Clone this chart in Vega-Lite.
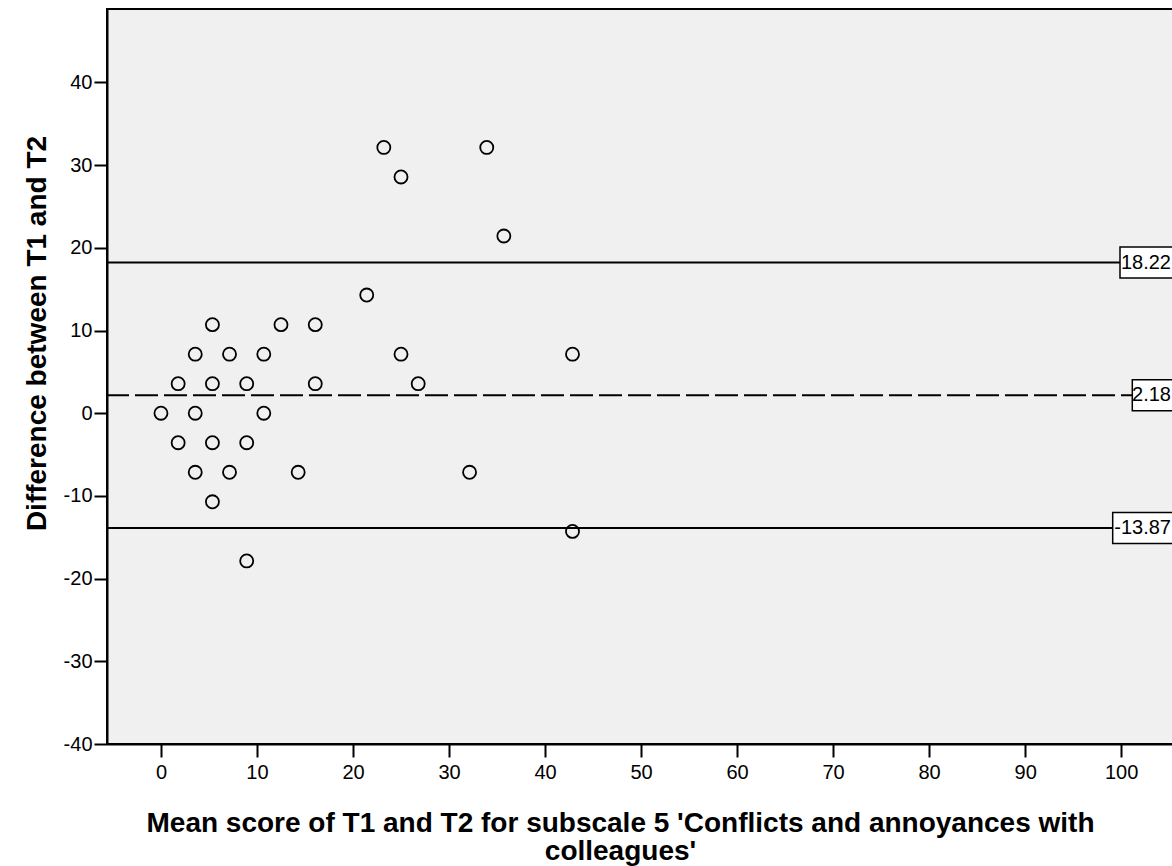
{
  "$schema": "https://vega.github.io/schema/vega-lite/v6.json",
  "width": 1066,
  "height": 735,
  "autosize": "none",
  "padding": {"left": 107, "top": 9, "right": 0, "bottom": 122},
  "background": "white",
  "config": {
    "font": "Liberation Sans",
    "view": {"fill": "#f0f0f0", "stroke": "#000", "strokeWidth": 2},
    "axis": {
      "grid": false,
      "domainColor": "#000",
      "domainWidth": 2,
      "tickColor": "#000",
      "tickWidth": 2,
      "tickSize": 13,
      "labelFont": "Liberation Sans",
      "labelFontSize": 20,
      "labelColor": "#000",
      "titleFont": "Liberation Sans",
      "titleFontSize": 28,
      "titleFontWeight": "bold",
      "titleColor": "#000"
    }
  },
  "layer": [
    {
      "data": {"values": [
        {"value": 18.22, "label": "18.22", "kind": "limit"},
        {"value": 2.18, "label": "2.18", "kind": "mean"},
        {"value": -13.87, "label": "-13.87", "kind": "limit"}
      ]},
      "mark": {"type": "rule", "stroke": "#000", "strokeWidth": 2},
      "encoding": {
        "y": {"field": "value", "type": "quantitative"},
        "strokeDash": {"field": "kind", "type": "nominal", "scale": {"domain": ["limit", "mean"], "range": [[1, 0], [23, 6]]}, "legend": null}
      }
    },
    {
      "data": {"values": [
        {"mean": 0, "diff": 0},
        {"mean": 1.79, "diff": 3.57},
        {"mean": 1.79, "diff": -3.57},
        {"mean": 3.57, "diff": 7.14},
        {"mean": 3.57, "diff": 0},
        {"mean": 3.57, "diff": -7.14},
        {"mean": 5.36, "diff": 10.71},
        {"mean": 5.36, "diff": 3.57},
        {"mean": 5.36, "diff": -3.57},
        {"mean": 5.36, "diff": -10.71},
        {"mean": 7.14, "diff": 7.14},
        {"mean": 7.14, "diff": -7.14},
        {"mean": 8.93, "diff": 3.57},
        {"mean": 8.93, "diff": -3.57},
        {"mean": 8.93, "diff": -17.86},
        {"mean": 10.71, "diff": 7.14},
        {"mean": 10.71, "diff": 0},
        {"mean": 12.5, "diff": 10.71},
        {"mean": 14.29, "diff": -7.14},
        {"mean": 16.07, "diff": 10.71},
        {"mean": 16.07, "diff": 3.57},
        {"mean": 21.43, "diff": 14.29},
        {"mean": 23.21, "diff": 32.14},
        {"mean": 25.0, "diff": 28.57},
        {"mean": 25.0, "diff": 7.14},
        {"mean": 26.79, "diff": 3.57},
        {"mean": 32.14, "diff": -7.14},
        {"mean": 33.93, "diff": 32.14},
        {"mean": 35.71, "diff": 21.43},
        {"mean": 42.86, "diff": 7.14},
        {"mean": 42.86, "diff": -14.29}
      ]},
      "mark": {"type": "point", "filled": false, "stroke": "#000", "strokeWidth": 1.8, "size": 170, "opacity": 1},
      "encoding": {
        "x": {
          "field": "mean", "type": "quantitative",
          "scale": {"domain": [-5.62, 105.4], "nice": false, "zero": false},
          "axis": {
            "values": [0, 10, 20, 30, 40, 50, 60, 70, 80, 90, 100],
            "labelExpr": "datum.value + ''",
            "labelPadding": 5,
            "title": ["Mean score of T1 and T2 for subscale 5 'Conflicts and annoyances with", "colleagues'"],
            "titleX": 513,
            "titleY": 87,
            "titleAlign": "center",
            "titleBaseline": "alphabetic",
            "titleLineHeight": 28
          }
        },
        "y": {
          "field": "diff", "type": "quantitative",
          "scale": {"domain": [-40, 48.88], "nice": false, "zero": false},
          "axis": {
            "values": [-40, -30, -20, -10, 0, 10, 20, 30, 40],
            "labelExpr": "datum.value + ''",
            "labelPadding": 2,
            "title": "Difference between T1 and T2",
            "titleX": -62,
            "titleY": 324,
            "titleAngle": 270,
            "titleAlign": "center",
            "titleBaseline": "alphabetic"
          }
        }
      }
    },
    {
      "data": {"values": [
        {"value": 18.22, "label": "18.22"},
        {"value": 2.18, "label": "2.18"},
        {"value": -13.87, "label": "-13.87"}
      ]},
      "mark": {"type": "point", "filled": true, "fill": "#fff", "stroke": "#000", "strokeWidth": 1.5, "size": 10000, "opacity": 1, "fillOpacity": 1},
      "encoding": {
        "x": {"datum": 105.4},
        "y": {"field": "value", "type": "quantitative"},
        "shape": {
          "field": "label", "type": "nominal",
          "scale": {"domain": ["18.22", "2.18", "-13.87"], "range": ["M-1.06,-0.31H0.1V0.31H-1.06Z", "M-0.814,-0.31H0.1V0.31H-0.814Z", "M-1.206,-0.31H0.1V0.31H-1.206Z"]},
          "legend": null
        }
      }
    },
    {
      "data": {"values": [
        {"value": 18.22, "label": "18.22"},
        {"value": 2.18, "label": "2.18"},
        {"value": -13.87, "label": "-13.87"}
      ]},
      "mark": {"type": "text", "align": "right", "baseline": "middle", "dx": -2, "fontSize": 20, "font": "Liberation Sans", "color": "#000"},
      "encoding": {
        "x": {"datum": 105.4},
        "y": {"field": "value", "type": "quantitative"},
        "text": {"field": "label", "type": "nominal"}
      }
    }
  ]
}
